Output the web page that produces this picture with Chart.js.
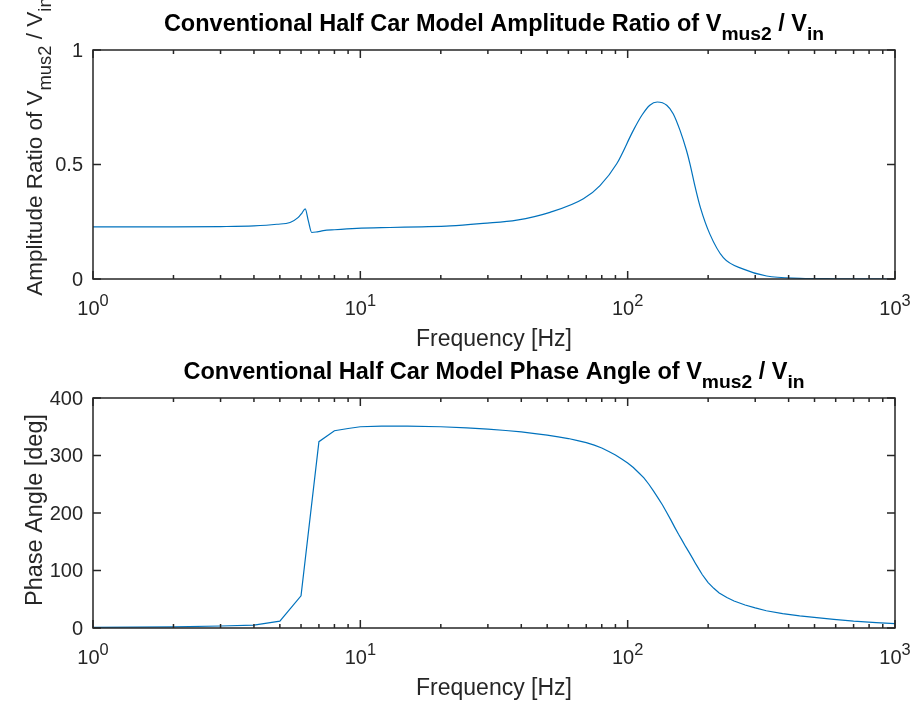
<!DOCTYPE html>
<html>
<head>
<meta charset="utf-8">
<script src="https://cdn.jsdelivr.net/npm/chart.js@4"></script>
<style>
  html, body { margin: 0; padding: 0; background: #fff; }
  #wrap { position: relative; width: 917px; height: 704px; }
  .box { position: absolute; left: 0; width: 917px; height: 352px; }
</style>
</head>
<body>
<div id="wrap">
  <div class="box" style="top:0"><canvas id="ampChart" width="917" height="352"></canvas></div>
  <div class="box" style="top:352px"><canvas id="phaseChart" width="917" height="352"></canvas></div>
</div>
<script>
// amplitude ratio
const freqAmp = [1, 2, 3, 4, 4.87, 5.46, 5.86, 6.05, 6.22, 6.39, 6.58, 6.9, 7.27, 8, 9.7, 12.9, 17, 21.7,
  28.8, 38.5, 51.2, 68.3, 78.8, 91, 105, 113, 121, 129, 140, 148, 157, 166, 171, 179, 187, 203, 228,
  271, 331, 442, 600, 1000];
const ampRatio = [0.228, 0.228, 0.229, 0.232, 0.239, 0.247, 0.269, 0.288, 0.306, 0.254, 0.203, 0.206,
  0.211, 0.215, 0.221, 0.225, 0.228, 0.232, 0.243, 0.257, 0.291, 0.350, 0.408, 0.503, 0.649, 0.715,
  0.759, 0.773, 0.759, 0.722, 0.649, 0.561, 0.503, 0.400, 0.313, 0.196, 0.093, 0.043, 0.013, 0.003,
  0.001, 0];

// phase angle
const freqPhase = [1, 2, 3, 4, 5, 6, 7, 8, 9, 10, 12, 15, 20, 25, 30, 35, 40, 45, 50, 55, 60, 65, 70,
  75, 80, 85, 90, 95, 100, 105, 110, 115, 120, 125, 130, 135, 140, 145, 150, 155, 160, 165, 170, 175,
  180, 185, 190, 195, 200, 210, 220, 235, 250, 275, 300, 330, 380, 440, 520, 590, 700, 850, 1000];
const phaseDeg = [1, 2, 3.5, 5, 12, 56, 324, 343, 347, 350, 351, 351, 350, 348, 346, 343.5, 341, 338,
  335.5, 332.5, 329.5, 326, 322.5, 318, 313, 307, 301, 294, 287, 279, 270, 261, 250, 238, 226, 214,
  201, 188, 175, 163, 152, 141, 131, 121, 111, 102, 93, 86, 79, 69, 61, 53, 47, 40, 35, 30, 25, 21,
  17.5, 15, 12, 9.5, 7.5];

const xMajor = [1, 10, 100, 1000];
const xMajorExp = ['0', '1', '2', '3'];
const ampTicks = [0, 0.5, 1];
const ampTickLabels = ['0', '0.5', '1'];
const phaseTicks = [0, 100, 200, 300, 400];
const phaseTickLabels = ['0', '100', '200', '300', '400'];

const FONT = '"Liberation Sans", Arial, Helvetica, sans-serif';
const AXIS_COLOR = '#262626';
const LINE_COLOR = '#0072BD';

// draw a run of text with sub/superscript pieces
function drawRich(ctx, parts, x, y, size, weight, align) {
  let total = 0;
  const widths = parts.map(p => {
    const s = p.sub || p.sup ? size * 0.82 : size;
    ctx.font = weight + ' ' + s + 'px ' + FONT;
    const w = ctx.measureText(p.t).width;
    total += w;
    return w;
  });
  let cx = align === 'center' ? x - total / 2 : (align === 'right' ? x - total : x);
  ctx.textAlign = 'left';
  ctx.textBaseline = 'alphabetic';
  parts.forEach((p, i) => {
    const s = p.sub || p.sup ? size * 0.82 : size;
    ctx.font = weight + ' ' + s + 'px ' + FONT;
    let dy = 0;
    if (p.sub) dy = size * 0.38;
    if (p.sup) dy = -size * 0.45;
    ctx.fillText(p.t, cx, y + dy);
    cx += widths[i];
  });
}

const matlabAxes = {
  id: 'matlabAxes',
  afterDraw(chart, args, opts) {
    const ctx = chart.ctx;
    const area = chart.chartArea;
    const xs = chart.scales.x, ys = chart.scales.y;
    ctx.save();
    ctx.strokeStyle = AXIS_COLOR;
    ctx.lineWidth = 1.5;
    ctx.strokeRect(area.left, area.top, area.right - area.left, area.bottom - area.top);

    // x ticks, inward, bottom and top
    ctx.beginPath();
    for (let k = 0; k < xMajor.length; k++) {
      const px = xs.getPixelForValue(xMajor[k]);
      ctx.moveTo(px, area.bottom); ctx.lineTo(px, area.bottom - 8);
      ctx.moveTo(px, area.top); ctx.lineTo(px, area.top + 8);
      if (k < xMajor.length - 1) {
        for (let m = 2; m <= 9; m++) {
          const mx = xs.getPixelForValue(xMajor[k] * m);
          ctx.moveTo(mx, area.bottom); ctx.lineTo(mx, area.bottom - 4);
          ctx.moveTo(mx, area.top); ctx.lineTo(mx, area.top + 4);
        }
      }
    }
    opts.yTicks.forEach(v => {
      const py = ys.getPixelForValue(v);
      ctx.moveTo(area.left, py); ctx.lineTo(area.left + 8, py);
      ctx.moveTo(area.right, py); ctx.lineTo(area.right - 8, py);
    });
    ctx.stroke();

    ctx.fillStyle = AXIS_COLOR;
    // x tick labels 10^n
    xMajor.forEach((v, i) => {
      const px = xs.getPixelForValue(v);
      drawRich(ctx, [{t: '10'}, {t: xMajorExp[i], sup: true}], px, area.bottom + 36, 20, 'normal', 'center');
    });
    // y tick labels
    ctx.font = '20px ' + FONT;
    ctx.textAlign = 'right';
    ctx.textBaseline = 'middle';
    opts.yTicks.forEach((v, i) => {
      ctx.fillText(opts.yTickLabels[i], area.left - 10, ys.getPixelForValue(v) + 1);
    });
    // x axis label
    drawRich(ctx, [{t: 'Frequency [Hz]'}], (area.left + area.right) / 2, area.bottom + 67, 23, 'normal', 'center');
    // y axis label, rotated
    ctx.save();
    ctx.translate(area.left - 51, (area.top + area.bottom) / 2 + opts.yLabelShift);
    ctx.rotate(-Math.PI / 2);
    drawRich(ctx, opts.yLabel, 0, 0, opts.yLabelSize, 'normal', 'center');
    ctx.restore();
    // title
    ctx.fillStyle = '#000';
    drawRich(ctx, opts.title, (area.left + area.right) / 2, area.top - 19, 23.5, 'bold', 'center');
    ctx.restore();
  }
};

function makeChart(id, xsArr, ysArr, yMin, yMax, pad, plugOpts, smooth) {
  const points = xsArr.map((f, i) => ({x: f, y: ysArr[i]}));
  return new Chart(document.getElementById(id), {
    type: 'line',
    data: {
      datasets: [{
        data: points,
        borderColor: LINE_COLOR,
        borderWidth: 1.2,
        pointRadius: 0,
        fill: false,
        cubicInterpolationMode: smooth ? 'monotone' : 'default',
        tension: 0
      }]
    },
    options: {
      responsive: false,
      animation: false,
      layout: { padding: pad },
      plugins: {
        legend: { display: false },
        tooltip: { enabled: false },
        matlabAxes: plugOpts
      },
      scales: {
        x: { type: 'logarithmic', min: 1, max: 1000, display: false },
        y: { type: 'linear', min: yMin, max: yMax, display: false }
      }
    },
    plugins: [matlabAxes]
  });
}

makeChart('ampChart', freqAmp, ampRatio, 0, 1,
  {left: 93, right: 22, top: 50, bottom: 73},
  {
    yTicks: ampTicks, yTickLabels: ampTickLabels, yLabelShift: -18, yLabelSize: 22.5,
    yLabel: [{t: 'Amplitude Ratio of V'}, {t: 'mus2', sub: true}, {t: ' / V'}, {t: 'in', sub: true}],
    title: [{t: 'Conventional Half Car Model Amplitude Ratio of V'}, {t: 'mus2', sub: true}, {t: ' / V'}, {t: 'in', sub: true}]
  }, true);

makeChart('phaseChart', freqPhase, phaseDeg, 0, 400,
  {left: 93, right: 22, top: 46, bottom: 76},
  {
    yTicks: phaseTicks, yTickLabels: phaseTickLabels, yLabelShift: -3, yLabelSize: 23.5,
    yLabel: [{t: 'Phase Angle [deg]'}],
    title: [{t: 'Conventional Half Car Model Phase Angle of V'}, {t: 'mus2', sub: true}, {t: ' / V'}, {t: 'in', sub: true}]
  }, false);
</script>
</body>
</html>
